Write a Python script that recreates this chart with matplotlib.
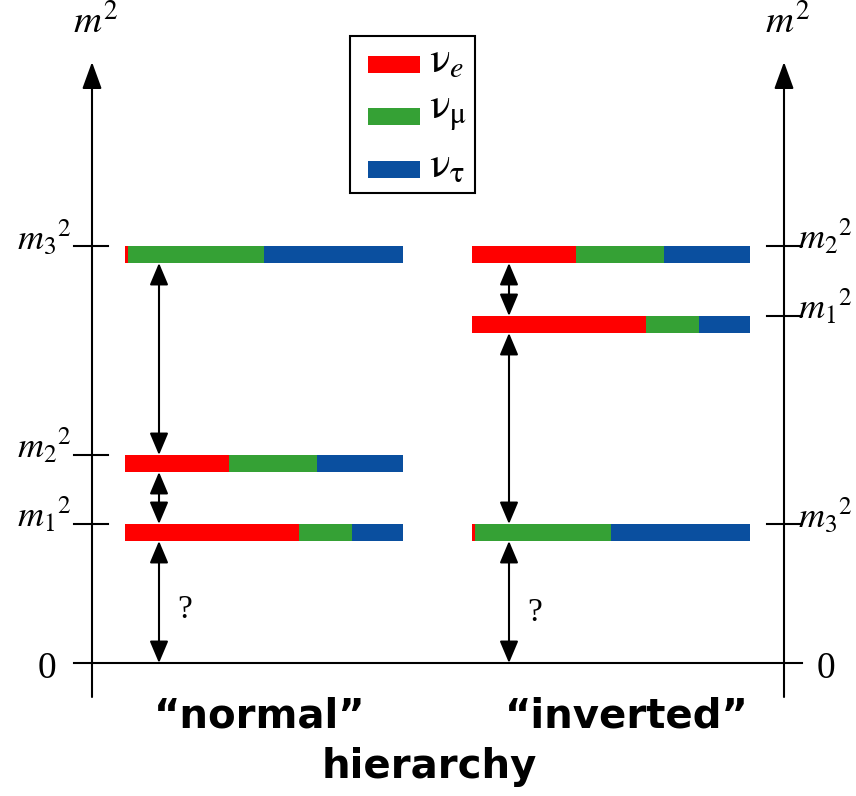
import matplotlib
matplotlib.use("Agg")
import matplotlib.pyplot as plt
from matplotlib.patches import Rectangle

plt.rcParams['mathtext.fontset'] = 'stix'
plt.rcParams['font.family'] = ['Liberation Serif', 'DejaVu Serif']

# ---- data ----
flavors = ['e', 'mu', 'tau']
flavor_labels = [r'$\mathrm{\nu}_{e}$', r'$\mathrm{\nu}_{\mathrm{\mu}}$', r'$\mathrm{\nu}_{\mathrm{\tau}}$']
colors = ['#ff0000', '#35a135', '#0a4f9f']
states = ['m1', 'm2', 'm3']
state_labels = [r'$m_1{}^2$', r'$m_2{}^2$', r'$m_3{}^2$']
# flavour content of each mass state (e, mu, tau)
content = {
    'm1': [0.625, 0.19, 0.185],
    'm2': [0.375, 0.315, 0.31],
    'm3': [0.012, 0.488, 0.50],
}
# mass-squared levels (arbitrary units)
normal_levels = {'m1': 139, 'm2': 208, 'm3': 417}
inverted_levels = {'m1': 347, 'm2': 417, 'm3': 139}
hier_labels = ['\u201cnormal\u201d', '\u201cinverted\u201d']

# ---- layout ----
W, H = 856, 796
fig = plt.figure(figsize=(W / 100, H / 100), dpi=100)
ax = fig.add_axes([0, 0, 1, 1])
ax.set_xlim(0, W)
ax.set_ylim(-133, 663)
ax.axis('off')

bar_th = 17
bar_w = 278
panels = [
    dict(levels=normal_levels, axis_x=92, bar_x=125, arrow_x=159, tick=(74, 108),
         lab_x=72, lab_ha='right', zero_x=47, q_x=185, q_y=53, text_x=260),
    dict(levels=inverted_levels, axis_x=784, bar_x=472, arrow_x=509, tick=(767, 802),
         lab_x=798, lab_ha='left', zero_x=826, q_x=535, q_y=50, text_x=627),
]

lw = 1.5
dbl = dict(arrowstyle='<|-|>,head_length=0.9,head_width=0.38', color='k', lw=lw,
           shrinkA=0, shrinkB=0, mutation_scale=15)
for p, hl in zip(panels, hier_labels):
    lv = p['levels']
    # vertical axis with arrow
    ax.annotate('', xy=(p['axis_x'], 601), xytext=(p['axis_x'], -34),
                arrowprops=dict(arrowstyle='-|>,head_length=1.1,head_width=0.4',
                                color='k', lw=lw, shrinkA=0, shrinkB=0, mutation_scale=15))
    ax.text(p['axis_x'] + 4, 640, r'$m^2$', ha='center', va='center', fontsize=28)
    # ticks and labels
    for s, sl in zip(states, state_labels):
        y = lv[s]
        ax.plot(p['tick'], [y, y], color='k', lw=lw)
        ax.text(p['lab_x'], y + 8, sl, ha=p['lab_ha'], va='center', fontsize=26)
        # stacked flavour bar
        left = p['bar_x']
        for frac, c in zip(content[s], colors):
            ax.barh(y, frac * bar_w, left=left, height=-bar_th, align='edge',
                    color=c, edgecolor='none')
            left += frac * bar_w
    ax.text(p['zero_x'], -6, '0', ha='center', va='center', fontsize=27)
    # double arrows between levels
    ordered = sorted(states, key=lambda s: lv[s], reverse=True)
    for a, b in zip(ordered[:-1], ordered[1:]):
        ax.annotate('', xy=(p['arrow_x'], lv[b]), xytext=(p['arrow_x'], lv[a] - bar_th),
                    arrowprops=dbl)
    low = ordered[-1]
    ax.annotate('', xy=(p['arrow_x'], 0), xytext=(p['arrow_x'], lv[low] - bar_th),
                arrowprops=dbl)
    ax.text(p['q_x'], p['q_y'], '?', ha='center', va='center', fontsize=24)
    ax.text(p['text_x'], 663 - 717, hl, ha='center', va='center', fontsize=29,
            fontweight='bold', family='DejaVu Sans')

ax.text(429, 663 - 767, 'hierarchy', ha='center', va='center', fontsize=29,
        fontweight='bold', family='DejaVu Sans')

# zero line
ax.plot([74, 802], [0, 0], color='k', lw=lw)

# legend box
ax.add_patch(Rectangle((350, 663 - 193), 125, 157, fill=False, edgecolor='k', lw=1.5))
for i, (fl, c) in enumerate(zip(flavor_labels, colors)):
    yc = 663 - (64 + 52.5 * i)
    ax.barh(yc, 52, left=368, height=17, color=c, edgecolor='none')
    ax.text(429, yc + 2, fl, ha='left', va='center', fontsize=31)

fig.savefig('out.png', dpi=100)
